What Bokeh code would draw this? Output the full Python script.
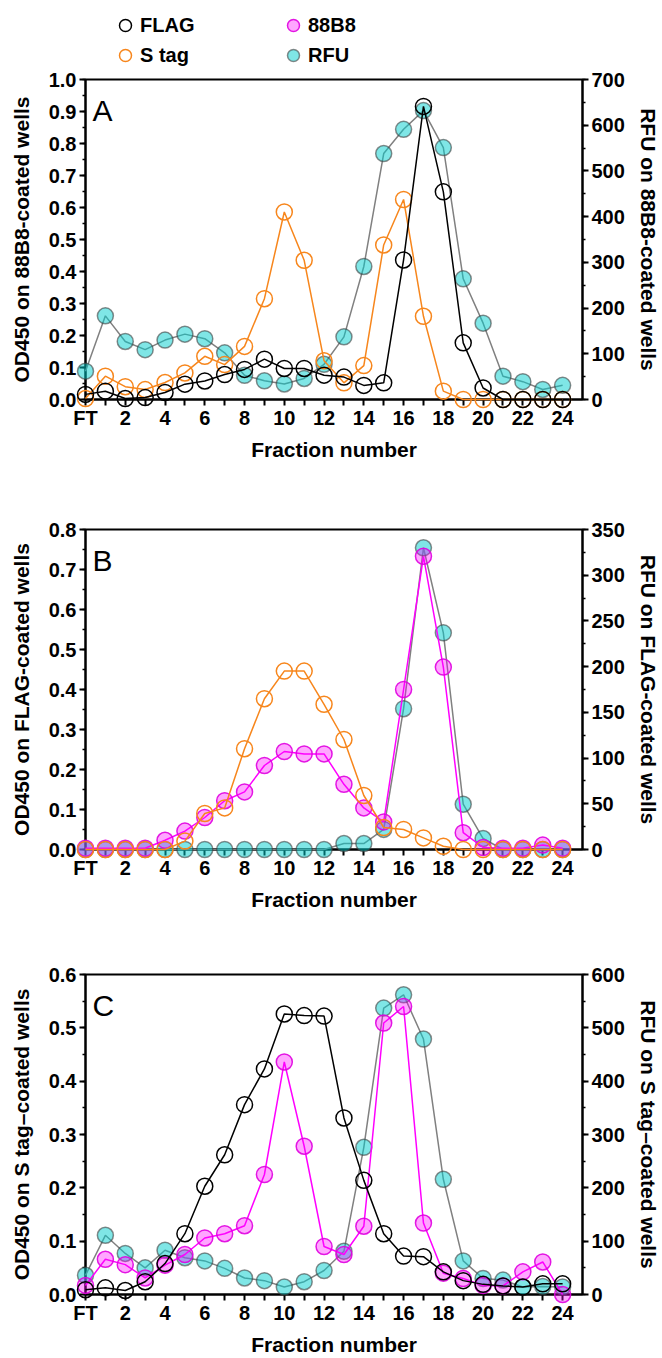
from bokeh.plotting import figure
from bokeh.models import (Range1d, LinearAxis, FixedTicker, Label, Legend, LegendItem,
                          NumeralTickFormatter)
from bokeh.layouts import column
from bokeh.embed import file_html
from bokeh.resources import INLINE

fractions = list(range(25))
x_tick_labels = {i: ("FT" if i == 0 else (str(i) if i % 2 == 0 else "")) for i in fractions}

# ---- Panel A (88B8-coated wells) ----
a_flag = [0.016, 0.026, 0.003, 0.006, 0.022, 0.048, 0.058, 0.078, 0.094, 0.126, 0.097, 0.097, 0.076,
          0.070, 0.044, 0.052, 0.436, 0.916, 0.649, 0.177, 0.036, 0.0, 0.0, 0.0, 0.0]
a_stag = [0.003, 0.073, 0.040, 0.031, 0.053, 0.083, 0.135, 0.109, 0.166, 0.315, 0.586, 0.435, 0.121,
          0.052, 0.106, 0.483, 0.625, 0.260, 0.026, 0.0, 0.0, 0.0, 0.0, 0.0, 0.0]
a_rfu = [62, 183, 127, 109, 130, 143, 133, 102, 53, 41, 34, 46, 77,
         137, 291, 538, 591, 632, 551, 264, 167, 51, 39, 22, 31]

# ---- Panel B (FLAG-coated wells) ----
b_stag = [0.0, 0.0, 0.0, 0.0, 0.0, 0.021, 0.090, 0.104, 0.252, 0.377, 0.446, 0.446, 0.363,
          0.275, 0.135, 0.055, 0.050, 0.029, 0.008, 0.0, 0.0, 0.0, 0.0, 0.0, 0.0]
b_88b8 = [0.003, 0.003, 0.003, 0.003, 0.023, 0.046, 0.080, 0.122, 0.144, 0.210, 0.245, 0.239, 0.239,
          0.163, 0.104, 0.069, 0.400, 0.733, 0.456, 0.042, 0.005, 0.003, 0.003, 0.011, 0.003]
b_rfu = [0, 0, 0, 0, 0, 0, 0, 0, 0, 0, 0, 0, 0,
         6.5, 6.5, 22, 154, 330, 237, 49.5, 12, 0, 0, 0, 0]

# ---- Panel C (S tag-coated wells) ----
c_flag = [0.009, 0.0125, 0.0075, 0.024, 0.058, 0.114, 0.203, 0.262, 0.356, 0.423, 0.526, 0.523, 0.522,
          0.331, 0.214, 0.114, 0.072, 0.071, 0.0425, 0.026, 0.019, 0.016, 0.014, 0.020, 0.020]
c_88b8 = [0.017, 0.066, 0.056, 0.031, 0.055, 0.075, 0.106, 0.114, 0.129, 0.225, 0.436, 0.278, 0.090,
          0.075, 0.128, 0.509, 0.540, 0.134, 0.040, 0.030, 0.017, 0.016, 0.0425, 0.061, 0.0]
c_rfu = [36, 111, 77, 50, 83, 69, 63, 49, 31, 26, 14, 24, 45,
         81, 276, 537, 562, 479, 216, 63, 30, 27, 14, 15, 14]

legend_col1 = ["FLAG", "S tag"]
legend_col2 = ["88B8", "RFU"]

FONT = "Liberation Sans"

STYLE = {
    "FLAG": dict(line_color="#000000", fill_color=None, fill_alpha=0.0, edge="#000000", edge_alpha=1.0),
    "S tag": dict(line_color="#F7861C", fill_color=None, fill_alpha=0.0, edge="#F7861C", edge_alpha=1.0),
    "88B8": dict(line_color="#FF00FF", fill_color="#FF00FF", fill_alpha=0.35, edge="#E000E0", edge_alpha=0.9),
    "RFU": dict(line_color="#808080", fill_color="#00CDCD", fill_alpha=0.5, edge="#404040", edge_alpha=0.6),
}

FRAME_H = 320
BOTTOM = 64
LEGEND_H = 66


def add_markers(p, xs, ys, name, y_range_name="default"):
    st = STYLE[name]
    return p.scatter(xs, ys, size=16, marker="circle",
                     fill_color=st["fill_color"], fill_alpha=st["fill_alpha"],
                     line_color=st["edge"], line_alpha=st["edge_alpha"], line_width=1.5,
                     y_range_name=y_range_name, level="overlay")


def add_series(p, xs, ys, name, y_range_name="default"):
    st = STYLE[name]
    p.line(xs, ys, line_color=st["line_color"], line_width=1.5,
           y_range_name=y_range_name, level="overlay")
    return add_markers(p, xs, ys, name, y_range_name)


def make_panel(btop, ymax, rmax, rstep, left_title, right_title, letter):
    p = figure(width=662, height=btop + FRAME_H + BOTTOM, x_range=Range1d(0, 25.0),
               y_range=Range1d(0, ymax),
               output_backend="svg", toolbar_location=None,
               min_border_left=85, min_border_right=77, min_border_top=btop, min_border_bottom=BOTTOM)
    p.grid.visible = False
    p.outline_line_color = "black"
    p.outline_line_width = 2
    p.background_fill_color = "white"
    p.border_fill_color = "white"

    p.extra_y_ranges = {"rfu": Range1d(0, rmax)}
    raxis = LinearAxis(y_range_name="rfu")
    p.add_layout(raxis, "right")

    nl = int(round(ymax * 10))
    p.yaxis[0].ticker = FixedTicker(ticks=[round(i * 0.1, 2) for i in range(nl + 1)],
                                    minor_ticks=[round(i * 0.05, 3) for i in range(2 * nl + 1)])
    p.yaxis[0].formatter = NumeralTickFormatter(format="0.0")
    nr = int(round(rmax / rstep))
    raxis.ticker = FixedTicker(ticks=[i * rstep for i in range(nr + 1)],
                               minor_ticks=[i * rstep / 2 for i in range(2 * nr + 1)])
    raxis.formatter = NumeralTickFormatter(format="0")

    xa = p.xaxis[0]
    xa.ticker = FixedTicker(ticks=fractions)
    xa.major_label_overrides = x_tick_labels
    xa.axis_label = "Fraction number"
    p.yaxis[0].axis_label = left_title
    raxis.axis_label = right_title

    for ax in [xa, p.yaxis[0], raxis]:
        ax.axis_line_width = 2
        ax.axis_line_color = "black"
        ax.major_tick_line_width = 2
        ax.minor_tick_line_width = 1.5
        ax.major_tick_in = 0
        ax.major_tick_out = 6
        ax.minor_tick_in = 0
        ax.minor_tick_out = 3
        ax.major_label_text_font = FONT
        ax.major_label_text_font_style = "bold"
        ax.major_label_text_font_size = "20px"
        ax.major_label_text_color = "black"
        ax.axis_label_text_font = FONT
        ax.axis_label_text_font_style = "bold"
        ax.axis_label_text_font_size = "21px"
        ax.axis_label_text_color = "black"
        ax.major_label_standoff = 3
    xa.minor_tick_line_color = None
    xa.major_label_standoff = 1
    xa.axis_label_standoff = 6
    p.yaxis[0].axis_label_standoff = 13
    raxis.axis_label_standoff = 9

    p.add_layout(Label(x=0.35, y=ymax * (1 - 31 / FRAME_H), text=letter, text_font=FONT,
                       text_font_size="30px", text_baseline="alphabetic", text_color="black"))
    return p


# ---- Legend strip above panel A (proxy markers fall outside its x range) ----
pL = figure(width=662, height=LEGEND_H, x_range=Range1d(100, 101), y_range=Range1d(0, 1),
            output_backend="svg", toolbar_location=None, title=None,
            x_axis_location=None, y_axis_location=None,
            min_border_left=0, min_border_right=0, min_border_top=0, min_border_bottom=0)
pL.grid.visible = False
pL.outline_line_color = None
proxy = {"FLAG": a_flag, "S tag": a_stag, "88B8": b_88b8, "RFU": a_rfu}


def make_legend(names, loc):
    items = [LegendItem(label=n, renderers=[add_markers(pL, fractions, proxy[n], n)]) for n in names]
    return Legend(items=items, location=loc, glyph_width=30, glyph_height=30,
                  label_height=30, label_standoff=0, spacing=0, padding=0, margin=0,
                  label_text_font=FONT, label_text_font_style="bold", label_text_font_size="20px",
                  label_text_color="black", background_fill_alpha=0, border_line_color=None)


pL.add_layout(make_legend(legend_col1, (25, -4)))
pL.add_layout(make_legend(legend_col2, (193, -4)))

pA = make_panel(79 - LEGEND_H, 1.0, 700, 100,
                "OD450 on 88B8-coated wells", "RFU on 88B8-coated wells", "A")
add_series(pA, fractions, a_rfu, "RFU", "rfu")
add_series(pA, fractions, a_stag, "S tag")
add_series(pA, fractions, a_flag, "FLAG")

pB = make_panel(66, 0.8, 350, 50,
                "OD450 on FLAG-coated wells", "RFU on FLAG-coated wells", "B")
add_series(pB, fractions, b_rfu, "RFU", "rfu")
add_series(pB, fractions, b_88b8, "88B8")
add_series(pB, fractions, b_stag, "S tag")

pC = make_panel(61, 0.6, 600, 100,
                "OD450 on S tag\u2013coated wells", "RFU on S tag\u2013coated wells", "C")
add_series(pC, fractions, c_rfu, "RFU", "rfu")
add_series(pC, fractions, c_88b8, "88B8")
add_series(pC, fractions, c_flag, "FLAG")

layout = column(pL, pA, pB, pC)
open("out.html", "w").write(file_html(layout, INLINE))
